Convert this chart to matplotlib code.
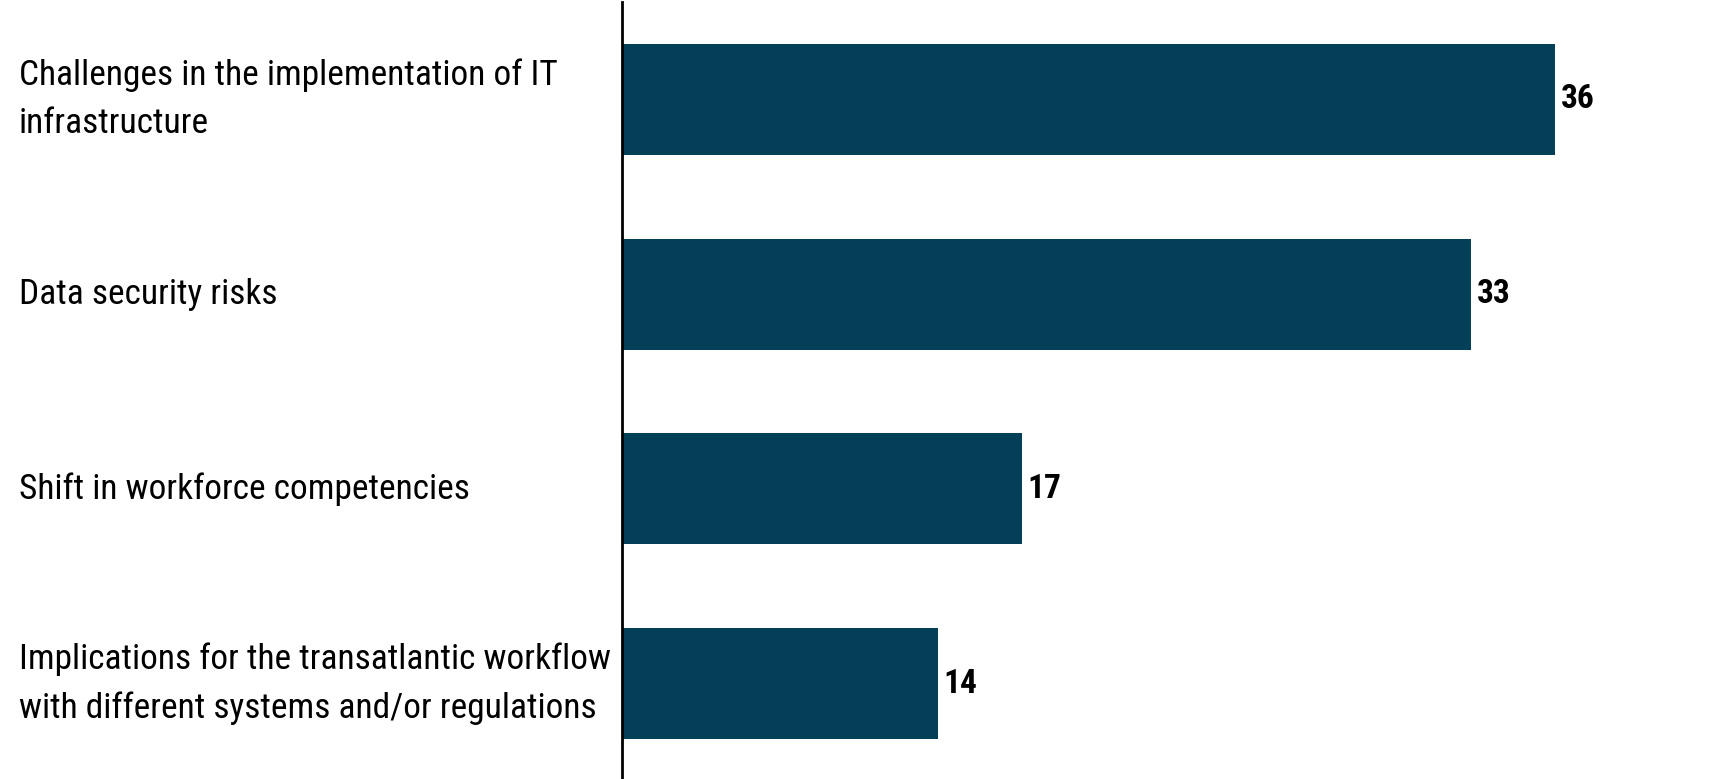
import matplotlib.pyplot as plt
import matplotlib.transforms as mtransforms

categories = [
    "Challenges in the implementation of IT\ninfrastructure",
    "Data security risks",
    "Shift in workforce competencies",
    "Implications for the transatlantic workflow\nwith different systems and/or regulations",
]
values = [36, 33, 17, 14]

bar_color = "#033f56"
plt.rcParams['font.family'] = ['Roboto Condensed', 'DejaVu Sans']

fig = plt.figure(figsize=(17.29, 7.79), dpi=100)
ax = fig.add_axes([622 / 1729, 0, 1 - 622 / 1729, 1 - 2 / 779])

y = list(range(len(values)))
ax.barh(y, values, height=0.57, color=bar_color)
ax.set_xlim(2.74, 42.2)
ax.set_ylim(3.49, -0.5)

for yi, v in zip(y, values):
    ax.text(v + 0.2, yi, str(v), va='center', ha='left', fontsize=24,
            fontweight='bold', color='black')

# category labels at left edge of figure
trans = mtransforms.blended_transform_factory(fig.transFigure, ax.transData)
for yi, lab in zip(y, categories):
    ax.text(19 / 1729, yi, lab, transform=trans, ha='left', va='center',
            fontsize=25.5, color='black', linespacing=1.6)

ax.set_xticks([])
ax.set_yticks([])
for s in ['top', 'right', 'bottom']:
    ax.spines[s].set_visible(False)
ax.spines['left'].set_linewidth(2)
ax.spines['left'].set_color('black')

fig.savefig('out.png', dpi=100)
